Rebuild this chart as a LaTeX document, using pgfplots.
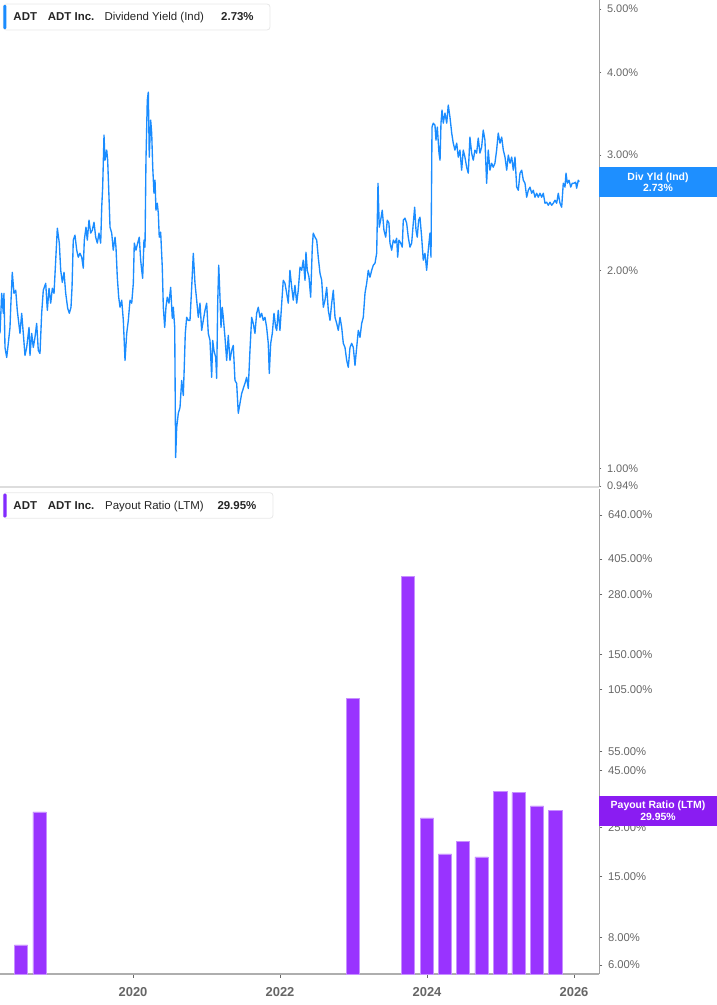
\documentclass[border=0pt]{standalone}
\usepackage{pgfplots}
\pgfplotsset{compat=1.18}
\usepackage{fontspec}
\setmainfont{Liberation Sans}
\definecolor{lineblue}{HTML}{1A8CFF}
\definecolor{tagblue}{HTML}{1E8FFF}
\definecolor{barpurple}{HTML}{9933FF}
\definecolor{tagpurple}{HTML}{8A1CF2}
\definecolor{tickgray}{HTML}{666666}
\definecolor{axgray}{HTML}{A0A0A0}
\definecolor{sepgray}{HTML}{DDDDDD}
\begin{document}
\begin{tikzpicture}
\useasboundingbox (0bp,0bp) rectangle (717bp,-1005bp);
% ---------- top panel: dividend yield ----------
\begin{axis}[
 at={(0bp,0bp)}, anchor=north west,
 scale only axis, width=599bp, height=487bp,
 xmin=2018.19, xmax=2026.34,
 ymode=log, ymin=0.937, ymax=5.16,
 axis x line*=bottom, axis y line*=right,
 x axis line style={draw=sepgray, line width=1.5bp, -},
 y axis line style={draw=axgray, line width=1bp, -},
 xtick=\empty,
 ytick={0.94,1,2,3,4,5},
 yticklabels={0.94\%,1.00\%,2.00\%,3.00\%,4.00\%,5.00\%},
 yticklabel style={font=\fontsize{11}{13}\selectfont, text=tickgray, anchor=west, xshift=2bp},
 ytick style={draw=tickgray, line width=0.6bp},
 yminorticks=false,
 tick align=outside, major tick length=2.5bp,
]
\addplot[lineblue, line width=1.35bp, line join=round] table {
t v
2018.190 1.605
2018.213 1.847
2018.235 1.722
2018.244 1.847
2018.258 1.528
2018.281 1.475
2018.303 1.550
2018.326 1.639
2018.336 1.759
2018.357 1.988
2018.380 1.847
2018.404 1.867
2018.425 1.740
2018.462 1.605
2018.485 1.722
2018.507 1.605
2018.530 1.486
2018.553 1.528
2018.585 1.639
2018.598 1.486
2018.621 1.605
2018.643 1.528
2018.666 1.583
2018.689 1.662
2018.711 1.512
2018.734 1.496
2018.757 1.722
2018.779 1.867
2018.812 1.913
2018.834 1.740
2018.857 1.880
2018.880 1.784
2018.902 1.880
2018.925 1.847
2018.948 2.074
2018.970 2.320
2018.997 2.202
2019.016 2.002
2019.038 1.919
2019.061 1.988
2019.084 1.847
2019.111 1.753
2019.133 1.722
2019.156 1.759
2019.170 1.886
2019.187 2.225
2019.210 2.264
2019.234 2.148
2019.255 2.096
2019.278 2.125
2019.302 2.096
2019.323 2.017
2019.337 2.225
2019.360 2.328
2019.378 2.225
2019.401 2.386
2019.424 2.280
2019.446 2.304
2019.469 2.369
2019.492 2.248
2019.514 2.202
2019.537 2.280
2019.560 2.202
2019.574 2.497
2019.587 2.679
2019.605 3.214
2019.619 2.944
2019.642 3.050
2019.655 2.944
2019.673 2.586
2019.687 2.328
2019.710 2.280
2019.731 2.148
2019.755 2.248
2019.768 2.171
2019.786 1.954
2019.805 1.822
2019.823 1.759
2019.846 1.803
2019.868 1.680
2019.891 1.460
2019.914 1.605
2019.936 1.680
2019.959 1.803
2019.982 1.784
2020.004 1.913
2020.017 2.202
2020.040 2.148
2020.063 2.202
2020.085 2.248
2020.104 2.074
2020.118 2.002
2020.131 1.947
2020.149 2.225
2020.163 2.171
2020.176 2.944
2020.194 3.634
2020.208 3.737
2020.221 2.976
2020.240 3.388
2020.254 3.237
2020.268 2.873
2020.285 2.622
2020.299 2.745
2020.312 2.471
2020.330 2.532
2020.344 2.445
2020.357 2.248
2020.376 2.288
2020.398 2.024
2020.412 1.759
2020.431 1.639
2020.448 1.759
2020.466 1.822
2020.489 1.784
2020.512 1.886
2020.534 1.692
2020.548 1.759
2020.567 1.639
2020.580 1.039
2020.594 1.154
2020.616 1.213
2020.639 1.238
2020.662 1.361
2020.684 1.291
2020.697 1.425
2020.711 1.605
2020.730 1.698
2020.752 1.680
2020.775 1.680
2020.798 1.886
2020.820 2.125
2020.843 1.913
2020.866 1.803
2020.888 1.698
2020.911 1.784
2020.934 1.622
2020.956 1.680
2020.979 1.740
2021.002 1.784
2021.024 1.605
2021.047 1.566
2021.070 1.376
2021.084 1.566
2021.101 1.512
2021.125 1.475
2021.138 1.371
2021.152 1.784
2021.166 2.038
2021.183 1.822
2021.197 1.639
2021.214 1.759
2021.228 1.698
2021.251 1.583
2021.274 1.460
2021.296 1.594
2021.319 1.460
2021.342 1.512
2021.364 1.539
2021.387 1.361
2021.410 1.347
2021.432 1.213
2021.455 1.256
2021.478 1.300
2021.500 1.323
2021.523 1.347
2021.546 1.376
2021.568 1.323
2021.591 1.512
2021.614 1.698
2021.636 1.662
2021.659 1.605
2021.682 1.722
2021.704 1.759
2021.727 1.698
2021.750 1.722
2021.772 1.680
2021.795 1.698
2021.818 1.639
2021.840 1.550
2021.854 1.395
2021.873 1.550
2021.895 1.605
2021.918 1.722
2021.941 1.639
2021.955 1.622
2021.976 1.740
2021.999 1.622
2022.023 1.784
2022.044 1.933
2022.067 1.913
2022.091 1.847
2022.112 1.784
2022.135 2.002
2022.159 1.886
2022.180 1.803
2022.203 1.899
2022.227 1.784
2022.248 1.867
2022.272 2.024
2022.295 2.002
2022.316 2.074
2022.340 1.933
2022.353 2.133
2022.371 2.002
2022.394 1.954
2022.417 1.822
2022.439 2.171
2022.452 2.280
2022.476 2.248
2022.499 2.225
2022.520 2.096
2022.544 1.981
2022.567 1.933
2022.589 1.759
2022.612 1.803
2022.635 1.886
2022.657 1.740
2022.680 1.680
2022.703 1.784
2022.725 1.867
2022.748 1.698
2022.771 1.662
2022.793 1.622
2022.816 1.698
2022.839 1.639
2022.861 1.550
2022.884 1.528
2022.907 1.460
2022.929 1.425
2022.952 1.528
2022.975 1.550
2022.997 1.528
2023.020 1.435
2023.043 1.528
2023.065 1.622
2023.088 1.583
2023.111 1.662
2023.133 1.698
2023.156 1.847
2023.179 1.913
2023.201 2.002
2023.224 1.954
2023.247 2.002
2023.269 2.038
2023.292 2.052
2023.315 2.125
2023.333 2.716
2023.350 2.328
2023.369 2.386
2023.391 2.471
2023.414 2.304
2023.438 2.248
2023.459 2.386
2023.482 2.361
2023.496 2.202
2023.519 2.148
2023.541 2.225
2023.564 2.202
2023.587 2.240
2023.601 2.096
2023.618 2.225
2023.642 2.202
2023.663 2.171
2023.677 2.386
2023.700 2.403
2023.723 2.361
2023.745 2.248
2023.768 2.171
2023.791 2.202
2023.813 2.361
2023.832 2.497
2023.850 2.304
2023.867 2.248
2023.886 2.386
2023.904 2.411
2023.927 2.248
2023.949 2.074
2023.972 2.125
2023.995 2.002
2024.017 2.148
2024.040 2.280
2024.054 2.096
2024.068 3.306
2024.085 3.352
2024.108 3.329
2024.122 3.158
2024.140 3.306
2024.163 3.018
2024.177 2.944
2024.190 3.352
2024.204 3.509
2024.221 3.352
2024.244 3.472
2024.268 3.352
2024.289 3.571
2024.312 3.424
2024.336 3.237
2024.357 3.125
2024.380 3.050
2024.404 3.125
2024.425 2.976
2024.448 3.050
2024.471 2.843
2024.493 3.050
2024.516 2.976
2024.539 2.873
2024.561 2.813
2024.584 3.192
2024.607 3.018
2024.629 2.944
2024.652 3.050
2024.675 3.018
2024.697 3.181
2024.720 3.018
2024.743 3.082
2024.765 3.271
2024.788 3.158
2024.811 2.716
2024.833 3.050
2024.856 2.843
2024.879 2.913
2024.901 2.873
2024.924 2.913
2024.947 3.050
2024.969 3.237
2024.993 3.125
2025.016 3.192
2025.038 3.050
2025.061 2.976
2025.084 2.843
2025.106 2.997
2025.129 2.913
2025.152 2.976
2025.174 2.843
2025.197 2.976
2025.220 2.679
2025.242 2.650
2025.265 2.813
2025.288 2.843
2025.310 2.745
2025.333 2.716
2025.356 2.586
2025.378 2.650
2025.401 2.679
2025.424 2.622
2025.446 2.650
2025.469 2.586
2025.492 2.622
2025.514 2.586
2025.537 2.622
2025.560 2.586
2025.582 2.622
2025.605 2.532
2025.628 2.541
2025.650 2.514
2025.673 2.541
2025.696 2.514
2025.718 2.532
2025.741 2.559
2025.764 2.532
2025.786 2.622
2025.809 2.532
2025.832 2.497
2025.854 2.716
2025.877 2.679
2025.891 2.813
2025.909 2.716
2025.932 2.745
2025.955 2.679
2025.976 2.716
2025.999 2.716
2026.022 2.726
2026.036 2.669
2026.058 2.745
2026.071 2.730
};
\end{axis}
% ---------- bottom panel: payout ratio ----------
\begin{axis}[
 at={(0bp,-489bp)}, anchor=north west,
 scale only axis, width=599bp, height=485bp,
 xmin=2018.19, xmax=2026.34,
 ymode=log, ymin=5.46, ymax=838,
 log origin y=infty,
 ybar, bar width=0.181,
 axis x line*=bottom, axis y line*=right,
 x axis line style={draw=axgray!85, line width=1.5bp, -},
 y axis line style={draw=axgray, line width=1bp, -},
 xtick={2020,2022,2024,2026},
 xticklabels={2020,2022,2024,2026},
 xticklabel style={font=\fontsize{13}{15}\selectfont\bfseries, text=tickgray, yshift=-6bp},
 xtick style={draw=tickgray, line width=0.6bp},
 ytick={6,8,15,25,45,55,105,150,280,405,640},
 yticklabels={6.00\%,8.00\%,15.00\%,25.00\%,45.00\%,55.00\%,105.00\%,150.00\%,280.00\%,405.00\%,640.00\%},
 yticklabel style={font=\fontsize{11.3}{13}\selectfont, text=tickgray, anchor=west, xshift=2bp},
 ytick style={draw=tickgray, line width=0.6bp},
 yminorticks=false,
 tick align=outside, major tick length=3.5bp,
]
\addplot[fill=barpurple, draw=barpurple!55!white, line width=0.5bp] coordinates {
(2018.476,7.38) (2018.727,29.4) (2022.989,95.4) (2023.737,338)
(2024.000,27.6) (2024.245,19.0) (2024.490,21.6) (2024.740,18.4)
(2024.997,36.3) (2025.246,35.9) (2025.497,31.3) (2025.746,29.95)
};
\end{axis}
% ---------- legend boxes ----------
\draw[draw=gray!18, fill=white, rounded corners=3bp, line width=0.8bp] (3.3bp,-4bp) rectangle (270bp,-30bp);
\fill[lineblue, rounded corners=1bp] (3.3bp,-5bp) rectangle (6.3bp,-29bp);
\begin{scope}[every node/.style={anchor=base west, inner sep=0pt, font=\fontsize{11.5}{13}\selectfont, text=black!85}]
\node at (13.3bp,-20.7bp) {\bfseries ADT};
\node at (47.7bp,-20.7bp) {\bfseries ADT Inc.};
\node at (104.3bp,-20.7bp) {Dividend Yield (Ind)};
\node at (221bp,-20.7bp) {\bfseries 2.73\%};
\end{scope}
\draw[draw=gray!18, fill=white, rounded corners=3bp, line width=0.8bp] (3.3bp,-492.7bp) rectangle (273bp,-518.3bp);
\fill[barpurple!85!blue, rounded corners=1bp] (3.3bp,-493.7bp) rectangle (6.6bp,-517.3bp);
\begin{scope}[every node/.style={anchor=base west, inner sep=0pt, font=\fontsize{11.5}{13}\selectfont, text=black!85}]
\node at (13.3bp,-509bp) {\bfseries ADT};
\node at (47.7bp,-509bp) {\bfseries ADT Inc.};
\node at (105bp,-509bp) {Payout Ratio (LTM)};
\node at (217.3bp,-509bp) {\bfseries 29.95\%};
\end{scope}
% ---------- right-hand value tags ----------
\fill[tagblue] (598.7bp,-167.3bp) rectangle (717bp,-196.7bp);
\node[text=white, font=\fontsize{10.5}{11.3}\selectfont\bfseries, align=center, inner sep=0pt] at (658bp,-182bp) {Div Yld (Ind)\\2.73\%};
\fill[tagpurple] (598.7bp,-796bp) rectangle (717bp,-825.7bp);
\node[text=white, font=\fontsize{10.5}{11.3}\selectfont\bfseries, align=center, inner sep=0pt] at (658bp,-810.7bp) {Payout Ratio (LTM)\\29.95\%};
\end{tikzpicture}
\end{document}
